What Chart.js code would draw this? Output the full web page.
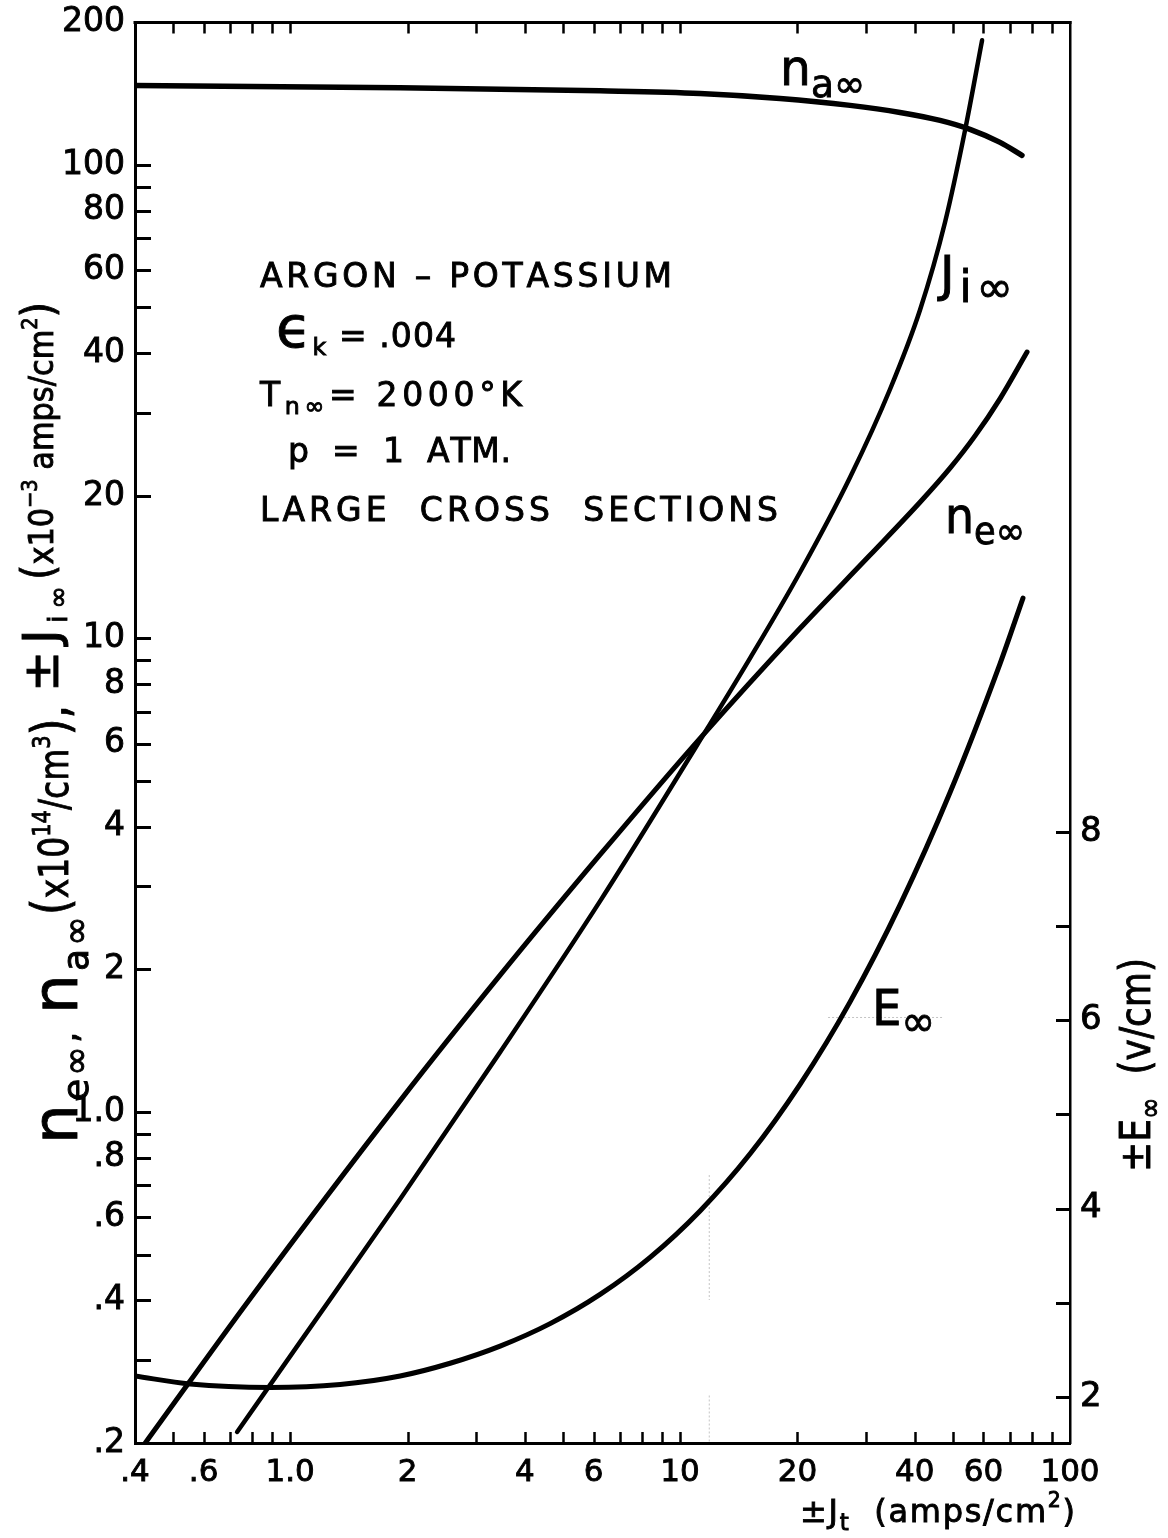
<!DOCTYPE html>
<html lang="en">
<head>
<meta charset="UTF-8">
<title>Argon - Potassium: densities, ion current and field vs total current</title>
<script src="https://cdn.jsdelivr.net/npm/chart.js"></script>
<style>
  html, body { margin: 0; padding: 0; background: #fff; }
  canvas { display: block; }
</style>
</head>
<body>
<canvas id="plot" width="1168" height="1538"></canvas>
<script>
// total current density Jt (amps/cm^2) along x, curve values on the left log axis
const naX = [0.4, 1.915, 6.235, 11.25, 18.05, 27.29, 36.65, 46.42, 55.4, 66.17, 75.3];
const naY = [147.2, 145.5, 143.4, 141.6, 138.2, 133.6, 129.1, 124.2, 118.9, 111.6, 104.8];

const neX = [0.425, 0.79, 1.915, 3.455, 6.235, 11.25, 20.31, 30.71, 41.24, 49.24, 57.07, 66.17, 77.6];
const neY = [0.2, 0.404, 1.057, 1.945, 3.494, 6.155, 10.51, 15.0, 19.39, 22.89, 26.78, 32.11, 40.27];

const jiX = [0.731, 1.061, 1.915, 3.455, 6.235, 11.05, 15.12, 20.31, 27.29, 34.55, 41.24, 47.81, 53.8, 59.5];
const jiY = [0.211, 0.327, 0.655, 1.338, 2.788, 5.95, 9.09, 13.8, 21.9, 33.6, 49.4, 75.7, 118.3, 183.3];

// field E (v/cm) on the right linear axis
const eX = [0.4, 0.554, 0.889, 1.344, 1.915, 2.572, 3.455, 4.642, 6.235, 8.377, 11.25, 15.12, 20.31, 27.29, 36.65, 49.24, 66.17, 75.76];
const eY = [2.222, 2.137, 2.1, 2.132, 2.222, 2.357, 2.539, 2.778, 3.088, 3.482, 3.975, 4.582, 5.32, 6.196, 7.226, 8.419, 9.789, 10.485];

// axis ticks
const xTickValues = [0.4, 0.6, 1, 2, 4, 6, 10, 20, 40, 60, 100];
const xTickLabels = ['.4', '.6', '1.0', '2', '4', '6', '10', '20', '40', '60', '100'];
const xMarks = [0.5, 0.6, 0.7, 0.8, 0.9, 1, 2, 3, 4, 5, 6, 7, 8, 9, 10, 20, 30, 40, 50, 60, 70, 80, 90];

const yTickValues = [0.2, 0.4, 0.6, 0.8, 1, 2, 4, 6, 8, 10, 20, 40, 60, 80, 100, 200];
const yTickLabels = ['.2', '.4', '.6', '.8', '1.0', '2', '4', '6', '8', '10', '20', '40', '60', '80', '100', '200'];
const yMarks = [0.3, 0.4, 0.5, 0.6, 0.7, 0.8, 0.9, 1, 2, 3, 4, 5, 6, 7, 8, 9, 10, 20, 30, 40, 50, 60, 70, 80, 90, 100];

const eTickValues = [2, 4, 6, 8];
const eTickLabels = ['2', '4', '6', '8'];
const eMarks = [2, 3, 4, 5, 6, 7, 8];

// faint drafting guides left on the sheet: [x0, x1, y0, y1, axis]
const guides = [
  [23.96, 47.0, 6.03, 6.03, 'yE'],
  [11.88, 11.88, 0.736, 0.401, 'y'],
  [11.88, 11.88, 0.252, 0.2, 'y']
];

// curve names, anchored in data units (left edge, baseline)
const curveNames = [
  { parts: [['n', 'big'], ['a∞', 'low']], x: 18.05, y: 147.2, axis: 'y', size: 38, width: 85 },
  { parts: [['J', 'big'], ['i∞', 'lowbig']], x: 46.4, y: 54.3, axis: 'y', size: 38, width: 73 },
  { parts: [['n', 'big'], ['e∞', 'low']], x: 47.8, y: 16.7, axis: 'y', size: 38, width: 80 },
  { parts: [['E', 'big'], ['∞', 'lowbig']], x: 31.1, y: 5.95, axis: 'yE', size: 38, width: 63 }
];

// conditions block
const notes = [
  { parts: [['ARGON – POTASSIUM', 'n']], x: 260, y: 287, width: 412 },
  { parts: [['ϵ', 'huge'], ['k', 'sub'], [' = .004', 'n']], x: 276, y: 347, width: 180 },
  { parts: [['T', 'n'], ['n∞', 'sub'], ['= 2000°K', 'n']], x: 260, y: 406, width: 262 },
  { parts: [['p  =  1  ATM.', 'n']], x: 288, y: 462, width: 223 },
  { parts: [['LARGE  CROSS  SECTIONS', 'n']], x: 260, y: 521, width: 518 }
];

const FONT = '"DejaVu Sans"';
// size factor and baseline shift (in units of the base size) per text kind
const KINDS = {
  n: [1, 0], big: [1.3, 0], huge: [1.75, 0],
  sub: [0.72, 0.24], low: [1.0, 0.3], lowbig: [1.15, 0.3], sup: [0.64, -0.46]
};

// draws text pieces from the current origin along +x over the given width:
// letters are spread when there is room, squeezed when there is not
function drawParts(ctx, parts, size, width) {
  const items = parts.map(([t, kind]) => {
    const [f, d] = KINDS[kind];
    const s = size * f;
    ctx.font = `${s}px ${FONT}`;
    const chars = [...t].map(ch => ({ ch, w: ctx.measureText(ch).width }));
    return { s, dy: size * d, chars };
  });
  const all = items.flatMap(p => p.chars);
  const natural = all.reduce((a, c) => a + c.w, 0);
  let gap = 0, squeeze = 1;
  if (width && natural > width) squeeze = width / natural;
  else if (width && all.length > 1) gap = (width - natural) / (all.length - 1);
  ctx.save();
  ctx.scale(squeeze, 1);
  let cx = 0;
  ctx.fillStyle = '#000';
  ctx.strokeStyle = '#000';
  ctx.lineWidth = 0.9;
  ctx.textAlign = 'left';
  ctx.textBaseline = 'alphabetic';
  items.forEach(p => {
    ctx.font = `${p.s}px ${FONT}`;
    p.chars.forEach(c => {
      ctx.fillText(c.ch, cx, p.dy);
      ctx.strokeText(c.ch, cx, p.dy);
      cx += c.w + gap;
    });
  });
  ctx.restore();
}

// text run rotated to read upward, starting at (x, y)
function drawUp(ctx, x, y, parts, size, length) {
  ctx.save();
  ctx.translate(x, y);
  ctx.rotate(-Math.PI / 2);
  drawParts(ctx, parts, size, length);
  ctx.restore();
}

const inkPlugin = {
  id: 'ink',
  beforeDatasetsDraw(chart) {
    const { ctx, scales } = chart;
    ctx.save();
    ctx.strokeStyle = '#c4c4c4';
    ctx.lineWidth = 1;
    ctx.setLineDash([2, 2]);
    guides.forEach(([x0, x1, y0, y1, axis]) => {
      ctx.beginPath();
      ctx.moveTo(scales.x.getPixelForValue(x0), scales[axis].getPixelForValue(y0));
      ctx.lineTo(scales.x.getPixelForValue(x1), scales[axis].getPixelForValue(y1));
      ctx.stroke();
    });
    ctx.restore();
  },
  afterDraw(chart) {
    const { ctx, chartArea: a, scales } = chart;
    const { x, y, yE } = scales;
    ctx.save();
    ctx.strokeStyle = '#000';
    ctx.lineCap = 'butt';

    // top frame line
    ctx.lineWidth = 3;
    ctx.beginPath();
    ctx.moveTo(a.left - 1.5, a.top);
    ctx.lineTo(a.right + 1.5, a.top);
    ctx.stroke();

    // inward tick marks
    ctx.lineWidth = 2.5;
    ctx.beginPath();
    xMarks.forEach(v => {
      const px = Math.round(x.getPixelForValue(v)) + 0.5;
      ctx.moveTo(px, a.bottom); ctx.lineTo(px, a.bottom - 11);
      ctx.moveTo(px, a.top); ctx.lineTo(px, a.top + 11);
    });
    ctx.stroke();
    ctx.lineWidth = 3;
    ctx.beginPath();
    yMarks.forEach(v => {
      const py = Math.round(y.getPixelForValue(v)) + 0.5;
      ctx.moveTo(a.left, py); ctx.lineTo(a.left + 16, py);
    });
    eMarks.forEach(v => {
      const py = Math.round(yE.getPixelForValue(v)) + 0.5;
      ctx.moveTo(a.right, py); ctx.lineTo(a.right - 14, py);
    });
    ctx.stroke();

    // curve names
    curveNames.forEach(n => {
      ctx.save();
      ctx.translate(x.getPixelForValue(n.x), scales[n.axis].getPixelForValue(n.y));
      drawParts(ctx, n.parts, n.size, n.width);
      ctx.restore();
    });

    // conditions
    notes.forEach(n => {
      ctx.save();
      ctx.translate(n.x, n.y);
      drawParts(ctx, n.parts, 33, n.width);
      ctx.restore();
    });

    // left axis title, read upward in four runs
    drawUp(ctx, 77, 1144, [['n', 'huge'], ['e∞', 'low'], [', ', 'n'], ['n', 'huge'], ['a∞', 'low']], 36, 228);
    drawUp(ctx, 68, 915, [['(', 'big'], ['x10', 'n'], ['14', 'sup'], ['/cm', 'n'], ['3', 'sup'], ['),', 'big']], 40, 210);
    drawUp(ctx, 58, 692, [['±J', 'big'], ['i∞', 'sub']], 38, 106);
    drawUp(ctx, 53, 580, [['(', 'big'], ['x10', 'n'], ['−3', 'sup'], [' amps/cm', 'n'], ['2', 'sup'], [')', 'big']], 34, 278);

    // right axis title
    drawUp(ctx, 1150, 1172, [['±E', 'n'], ['∞', 'sub'], ['  (v/cm)', 'n']], 42, 214);

    // bottom axis title
    ctx.save();
    ctx.translate(800, 1522);
    drawParts(ctx, [['±J', 'n'], ['t', 'sub'], ['  (amps/cm', 'n'], ['2', 'sup'], [')', 'n']], 32, 275);
    ctx.restore();

    ctx.restore();
  }
};

const curve = (xs, ys, axis, width) => ({
  data: xs.map((v, i) => ({ x: v, y: ys[i] })),
  yAxisID: axis,
  borderColor: '#000',
  borderWidth: width,
  borderCapStyle: 'round',
  borderJoinStyle: 'round',
  pointRadius: 0,
  cubicInterpolationMode: 'monotone',
  fill: false
});

const tickStyle = size => ({
  autoSkip: false, maxRotation: 0, color: '#000',
  font: { family: 'DejaVu Sans', size: size },
  textStrokeColor: '#000', textStrokeWidth: 0.9
});
const pickTicks = values => scale => { scale.ticks = values.map(v => ({ value: v })); };

new Chart(document.getElementById('plot'), {
  type: 'line',
  data: {
    datasets: [
      curve(naX, naY, 'y', 5.5),
      curve(neX, neY, 'y', 5),
      curve(jiX, jiY, 'y', 4.5),
      curve(eX, eY, 'yE', 5)
    ]
  },
  options: {
    responsive: false,
    animation: false,
    events: [],
    layout: { padding: { top: 22, left: 0, right: 0, bottom: 0 } },
    plugins: { legend: { display: false }, tooltip: { enabled: false } },
    scales: {
      x: {
        type: 'logarithmic',
        position: 'bottom',
        min: 0.4,
        max: 100,
        grid: { display: false },
        border: { display: true, width: 3, color: '#000' },
        afterBuildTicks: pickTicks(xTickValues),
        afterFit: s => { s.height = 95; },
        ticks: { ...tickStyle(31), padding: 3, callback: (v, i) => xTickLabels[i] }
      },
      y: {
        type: 'logarithmic',
        position: 'left',
        min: 0.2,
        max: 200,
        grid: { display: false },
        border: { display: true, width: 3, color: '#000' },
        afterBuildTicks: pickTicks(yTickValues),
        afterFit: s => { s.width = 135; },
        ticks: { ...tickStyle(33), padding: 2, callback: (v, i) => yTickLabels[i] }
      },
      yE: {
        type: 'linear',
        position: 'right',
        min: 1.51,
        max: 16.6,
        grid: { display: false },
        border: { display: true, width: 2.5, color: '#000' },
        afterBuildTicks: pickTicks(eTickValues),
        afterFit: s => { s.width = 98; },
        ticks: { ...tickStyle(34), padding: 2, callback: (v, i) => eTickLabels[i] }
      }
    }
  },
  plugins: [inkPlugin]
});
</script>
</body>
</html>
